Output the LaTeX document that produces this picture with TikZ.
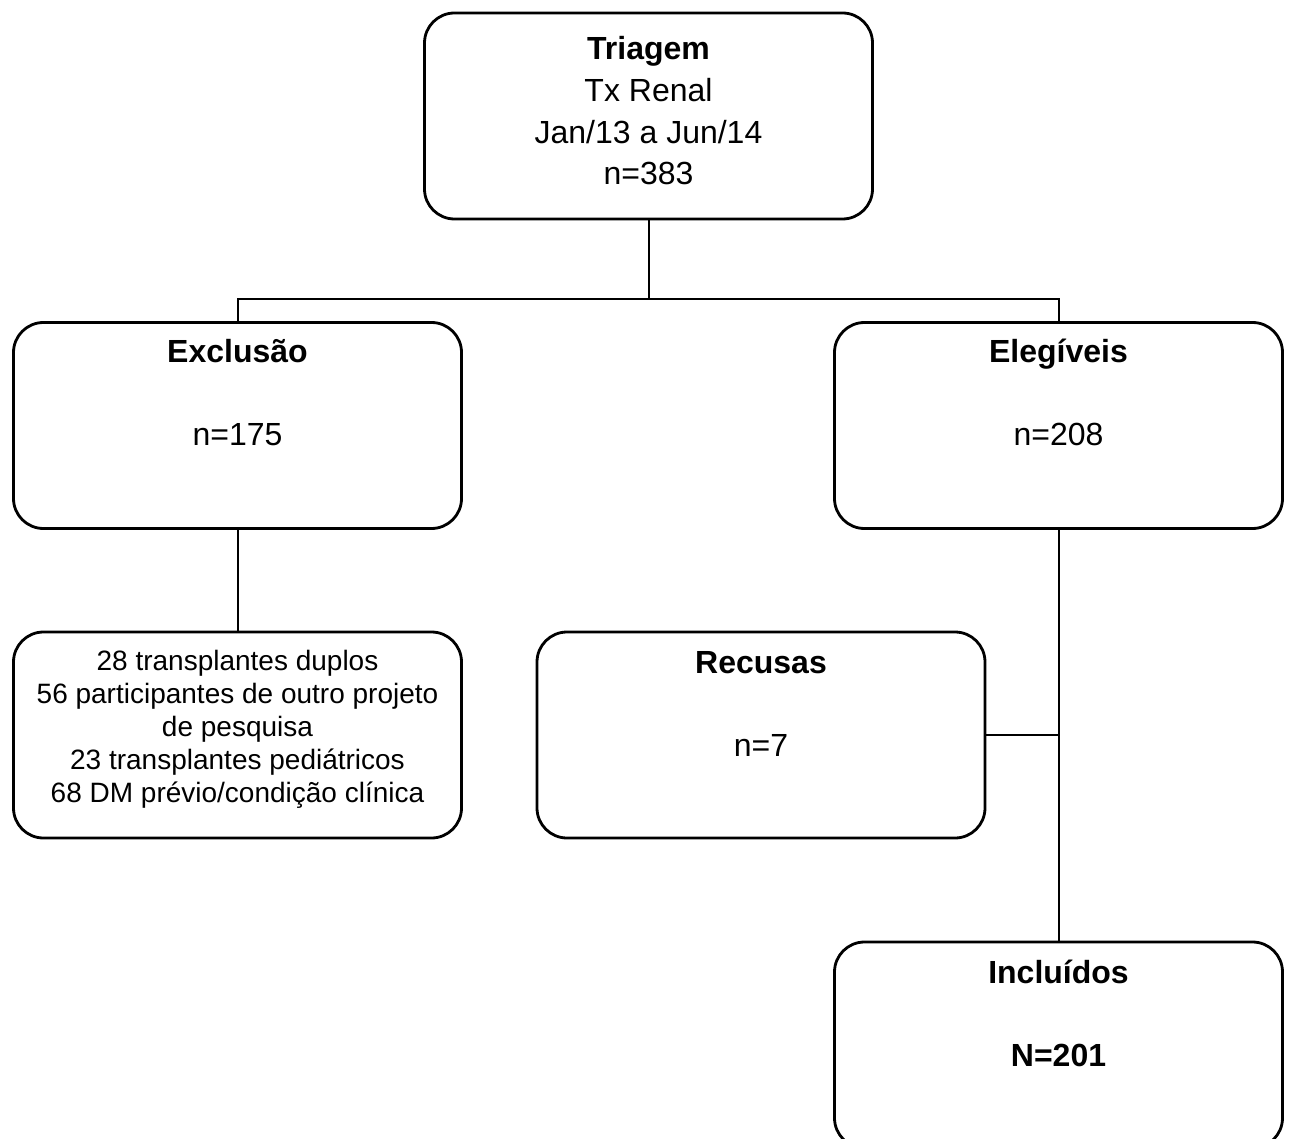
\documentclass[tikz,border=0pt]{standalone}
\usepackage{fontspec}
\setmainfont{Liberation Sans}
\begin{document}
\begin{tikzpicture}[x=1pt,y=-1pt,
  flowbox/.style={draw,line width=2.8pt,rounded corners=30pt,minimum width=448pt,minimum height=206pt,inner sep=0pt},
  btxt/.style={anchor=base,inner sep=0pt,font=\fontsize{32}{42}\selectfont},
  htxt/.style={btxt,font=\fontsize{32}{42}\selectfont\bfseries},
  ltxt/.style={align=center,inner sep=0pt,font=\fontsize{28}{33}\selectfont},
  conn/.style={line width=2pt}]
\clip (0,0) rectangle (1291,1139);
\fill[white] (0,0) rectangle (1291,1139);
% boxes
\node[flowbox] (tri) at (648.5,116) {};
\node[flowbox] (exc) at (237.5,425.5) {};
\node[flowbox] (ele) at (1058.5,425.5) {};
\node[flowbox] (lst) at (237.5,735) {};
\node[flowbox] (rec) at (761,735) {};
\node[flowbox] (inc) at (1058.5,1045) {};
% texts
\node[htxt] (trih) at (648.5,60) {Triagem};
\node[btxt] (tri1) at (648.5,101.7) {Tx Renal};
\node[btxt] (tri2) at (648.5,143.4) {Jan/13 a Jun/14};
\node[btxt] (tri3) at (648.5,185) {n=383};
\node[htxt] (exch) at (237.5,363) {Exclusão};
\node[btxt] (excn) at (237.5,446) {n=175};
\node[htxt] (eleh) at (1058.5,363) {Elegíveis};
\node[btxt] (elen) at (1058.5,446) {n=208};
\node[ltxt] (lstt) at (237.5,729) {28 transplantes duplos\\56 participantes de outro projeto\\de pesquisa\\23 transplantes pediátricos\\68 DM prévio/condição clínica};
\node[htxt] (rech) at (761,673) {Recusas};
\node[btxt] (recn) at (761,756) {n=7};
\node[htxt] (inch) at (1058.5,983) {Incluídos};
\node[htxt] (incn) at (1058.5,1066) {N=201};
% connectors
\coordinate (j) at (648.5,299);
\draw[conn] (tri.south) -- (j);
\draw[conn] (exc.north) |- (j) -| (ele.north);
\draw[conn] (exc.south) -- (lst.north);
\draw[conn] (ele.south) -- (inc.north);
\draw[conn] (rec.east) -- (rec.east -| ele.south);
\end{tikzpicture}
\end{document}
